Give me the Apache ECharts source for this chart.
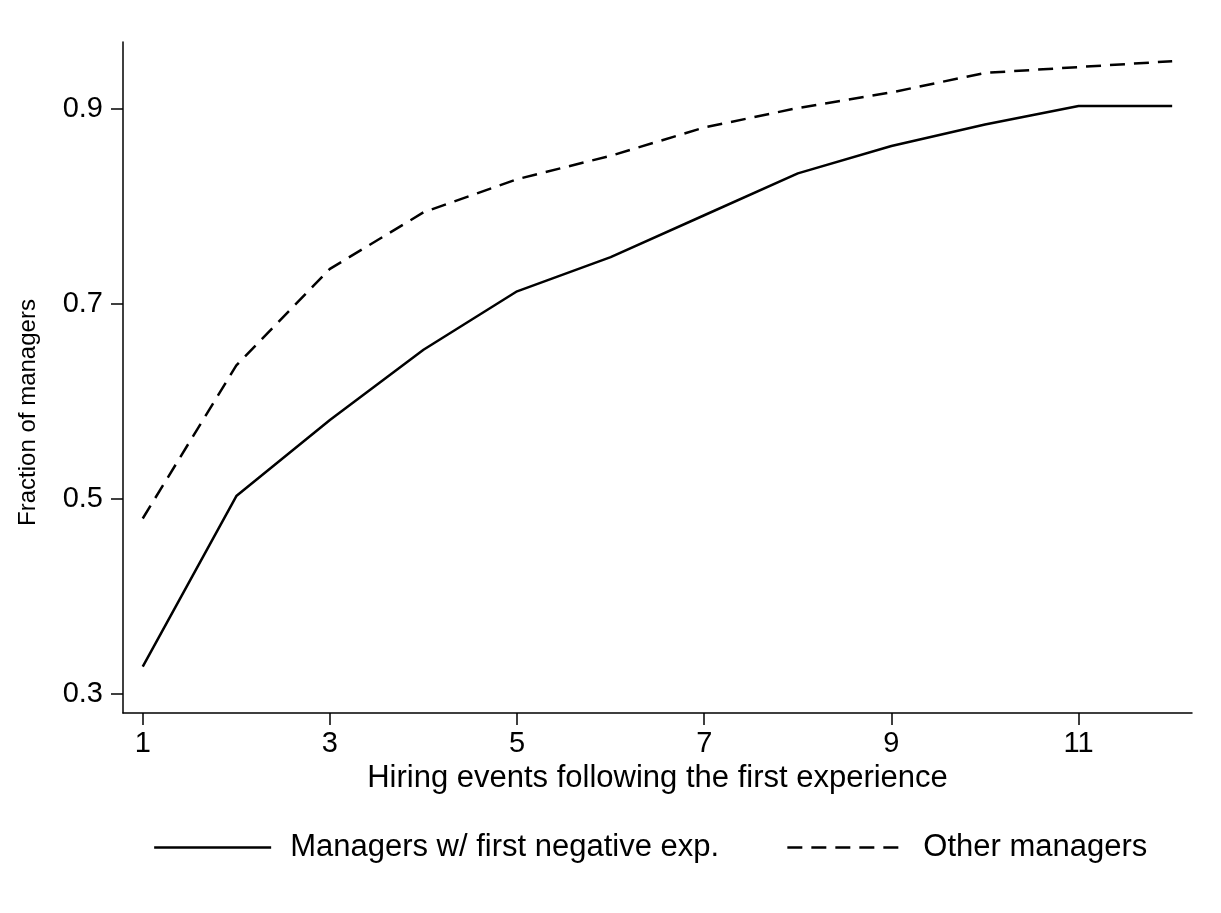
<!DOCTYPE html>
<html>
<head>
<meta charset="utf-8">
<script src="https://cdn.jsdelivr.net/npm/echarts@6/dist/echarts.min.js"></script>
<style>
html,body{margin:0;padding:0;background:#ffffff;}
#chart{width:1221px;height:913px;}
</style>
</head>
<body>
<div id="chart"></div>
<script>
// Data
const hiringEvents = [1, 2, 3, 4, 5, 6, 7, 8, 9, 10, 11, 12];
const negativeExp = [0.328, 0.503, 0.581, 0.653, 0.713, 0.748, 0.791, 0.834, 0.862, 0.884, 0.903, 0.903];
const otherManagers = [0.480, 0.637, 0.736, 0.794, 0.828, 0.852, 0.881, 0.901, 0.917, 0.937, 0.943, 0.949];
const xTicks = [1, 3, 5, 7, 9, 11];
const yTicks = [0.3, 0.5, 0.7, 0.9];
const seriesNames = ['Managers w/ first negative exp.', 'Other managers'];
const xTitle = 'Hiring events following the first experience';
const yTitle = 'Fraction of managers';

const FONT = "'Liberation Sans', Arial, Helvetica, sans-serif";
const chart = echarts.init(document.getElementById('chart'), null, {renderer: 'canvas'});

const toPairs = (xs, ys) => xs.map((x, i) => [x, ys[i]]);

const axisLine = {show: true, lineStyle: {color: '#000', width: 1.5}};
const axisTick = {show: true, length: 12, inside: false, lineStyle: {color: '#000', width: 1.5}};

chart.setOption({
  backgroundColor: '#ffffff',
  animation: false,
  grid: {left: 123, right: 29, top: 42, bottom: 200, containLabel: false},
  xAxis: {
    type: 'value',
    min: 0.789,
    max: 12.212,
    axisLine: axisLine,
    axisTick: Object.assign({customValues: xTicks}, axisTick),
    axisLabel: {customValues: xTicks, color: '#000', fontSize: 29, fontFamily: FONT, margin: 16},
    splitLine: {show: false},
    name: xTitle,
    nameLocation: 'middle',
    nameGap: 50,
    nameTextStyle: {color: '#000', fontSize: 31, fontFamily: FONT}
  },
  yAxis: {
    type: 'value',
    min: 0.2805,
    max: 0.9687,
    axisLine: axisLine,
    axisTick: Object.assign({customValues: yTicks}, axisTick),
    axisLabel: {customValues: yTicks, color: '#000', fontSize: 29, fontFamily: FONT, margin: 20,
      formatter: v => v.toFixed(1)},
    splitLine: {show: false},
    name: yTitle,
    nameLocation: 'middle',
    nameRotate: 90,
    nameGap: 83,
    nameTextStyle: {color: '#000', fontSize: 24, fontFamily: FONT, padding: [0, 70, 0, 0]}
  },
  legend: {
    data: seriesNames,
    left: 148,
    top: 827,
    orient: 'horizontal',
    itemWidth: 117,
    itemHeight: 14,
    itemGap: 67,
    itemStyle: {opacity: 0},
    lineStyle: {width: 2.3},
    textStyle: {color: '#000', fontSize: 31, fontFamily: FONT, padding: [0, 0, 0, 14]}
  },
  series: [
    {
      name: seriesNames[0], type: 'line', data: toPairs(hiringEvents, negativeExp),
      symbol: 'none', lineStyle: {color: '#000', width: 2.5, type: 'solid'},
      itemStyle: {color: '#000'}
    },
    {
      name: seriesNames[1], type: 'line', data: toPairs(hiringEvents, otherManagers),
      symbol: 'none', lineStyle: {color: '#000', width: 2.5, type: [15, 9]},
      itemStyle: {color: '#000'}
    }
  ]
});
</script>
</body>
</html>
